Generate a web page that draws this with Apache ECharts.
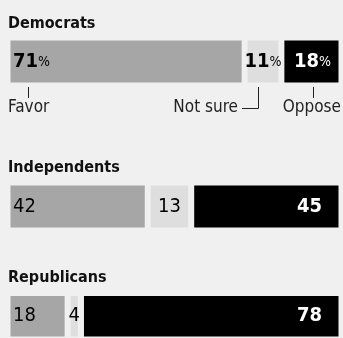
<!DOCTYPE html>
<html><head><meta charset="utf-8">
<script src="https://cdn.jsdelivr.net/npm/echarts@6/dist/echarts.min.js"></script>
<style>html,body{margin:0;padding:0;background:#f0f0f0}#c{width:343px;height:338px}</style>
</head><body><div id="c"></div><script>
const groups = ['Democrats', 'Independents', 'Republicans'];
const responses = ['Favor', 'Not sure', 'Oppose'];
const favor = [71, 42, 18];
const notSure = [11, 13, 4];
const oppose = [18, 45, 78];
const showPercent = [true, false, false];

const BG = '#f0f0f0';
const FONT = 'DejaVu Sans Condensed, DejaVu Sans, sans-serif';
const colors = ['#a6a6a6', '#dedede', '#000000'];
const barTops = [37.5, 182.5, 294.5];
const titleTops = [16, 160, 270];
const valueSets = [favor, notSure, oppose];

const chart = echarts.init(document.getElementById('c'), null, {renderer: 'canvas'});

const grids = [], xAxes = [], yAxes = [], series = [], titles = [];
groups.forEach((g, i) => {
  grids.push({left: 7.5, width: 334, top: barTops[i], height: 48});
  xAxes.push({type: 'value', gridIndex: i, min: 0, max: 100, show: false});
  yAxes.push({type: 'category', gridIndex: i, data: [g], show: false});
  titles.push({text: g, left: 8, top: titleTops[i], padding: 0,
    textStyle: {fontFamily: FONT, fontSize: 16, fontWeight: 'bold', color: '#111'}});
  responses.forEach((r, k) => {
    const v = valueSets[k][i];
    const txtColor = k === 2 ? '#fff' : '#000';
    const pos = k === 0 ? 'insideLeft' : (k === 1 ? 'inside' : 'insideRight');
    const dist = k === 0 ? 5.5 : (k === 2 ? (showPercent[i] ? 10.5 : 19.5) : 5);
    series.push({
      type: 'bar', name: r, stack: 's' + i, xAxisIndex: i, yAxisIndex: i,
      barWidth: 48, data: [v], silent: true, animation: false,
      itemStyle: {color: colors[k], borderColor: BG, borderWidth: 3},
      label: {
        show: true, position: pos, distance: dist,
        formatter: p => showPercent[i] ? '{b|' + p.value + '}{p|%}' : '{n|' + p.value + '}',
        rich: {
          b: {fontFamily: FONT, fontSize: 20, fontWeight: 'bold', color: txtColor},
          p: {fontFamily: FONT, fontSize: 14, color: txtColor, padding: [1, 0, 0, 0]},
          n: {fontFamily: FONT, fontSize: 20, fontWeight: k === 2 ? 'bold' : 'normal', color: txtColor}
        }
      }
    });
  });
});

const lineStyle = {stroke: '#222', lineWidth: 1};
const annTxt = {fontFamily: FONT, fontSize: 17, fill: '#222'};
const graphic = [
  {type: 'line', shape: {x1: 28.5, y1: 87, x2: 28.5, y2: 98}, style: lineStyle, silent: true},
  {type: 'text', x: 8, y: 99, style: Object.assign({text: responses[0]}, annTxt), silent: true},
  {type: 'text', x: 238, y: 99, style: Object.assign({text: responses[1], textAlign: 'right'}, annTxt), silent: true},
  {type: 'polyline', shape: {points: [[242, 108.5], [258.5, 108.5], [258.5, 87]]}, style: Object.assign({fill: null}, lineStyle), silent: true},
  {type: 'line', shape: {x1: 313.5, y1: 87, x2: 313.5, y2: 98}, style: lineStyle, silent: true},
  {type: 'text', x: 341, y: 99, style: Object.assign({text: responses[2], textAlign: 'right'}, annTxt), silent: true}
];

chart.setOption({
  backgroundColor: BG,
  animation: false,
  title: titles,
  grid: grids, xAxis: xAxes, yAxis: yAxes,
  series: series,
  graphic: graphic
});
</script></body></html>
